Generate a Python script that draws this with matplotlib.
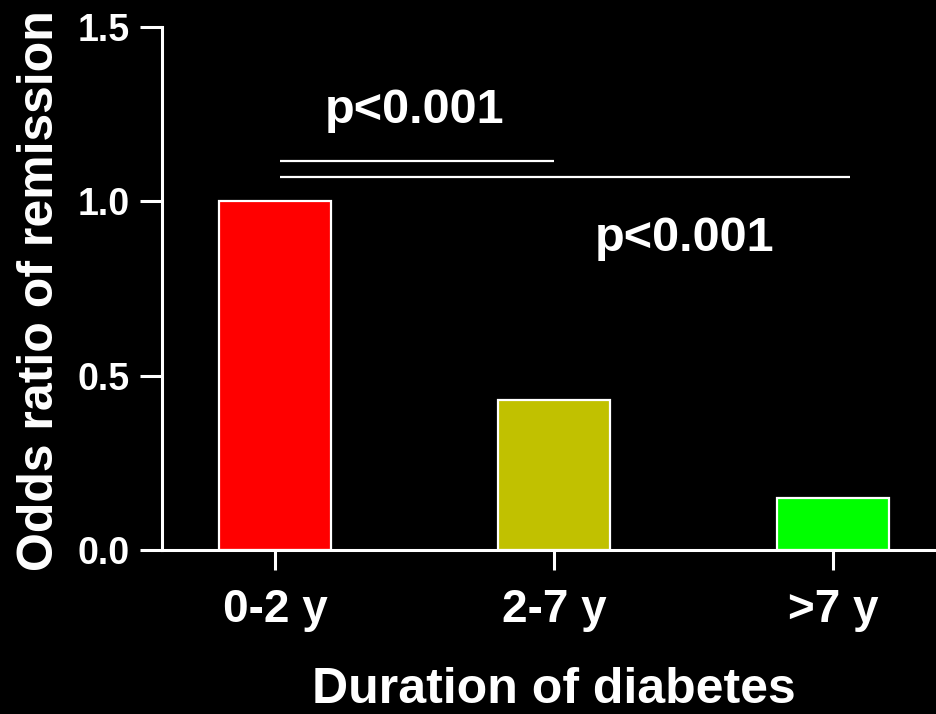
import numpy as np
import matplotlib.pyplot as plt

# odds ratio of remission by diabetes duration
groups = ['0-2 y', '2-7 y', '>7 y']
odds = [1.0, 0.43, 0.15]
bar_colors = ['#ff0000', '#c1c100', '#00ff00']

# significance brackets: (x start, x end, y, label, label x, label y)
brackets = [(0.02, 1.0, 1.115, 'p<0.001', 0.50, 1.26),
            (0.02, 2.06, 1.07, 'p<0.001', 1.47, 0.895)]

fig = plt.figure(figsize=(9.36, 7.14), dpi=100, facecolor='black')
ax = fig.add_axes([0.173, 0.2297, 0.827, 0.7323], facecolor='black')

x = np.arange(len(groups))
ax.bar(x, odds, width=0.4, color=bar_colors, edgecolor='white', linewidth=1.6, zorder=2)

for x0, x1, y, txt, tx, ty in brackets:
    ax.plot([x0, x1], [y, y], color='white', lw=1.6, solid_capstyle='butt')
    ax.text(tx, ty, txt, color='white', fontsize=35, fontweight='bold',
            family='Liberation Sans', ha='center', va='center')

ax.set_xlim(-0.405, 2.37)
ax.set_ylim(0, 1.5)
ax.set_yticks([0, 0.5, 1.0, 1.5])
ax.set_yticklabels(['0.0', '0.5', '1.0', '1.5'])
ax.set_xticks(x)
ax.set_xticklabels(groups)

for s in ['top', 'right']:
    ax.spines[s].set_visible(False)
for s in ['left', 'bottom']:
    ax.spines[s].set_color('white')
    ax.spines[s].set_linewidth(2.2)

ax.tick_params(axis='y', colors='white', length=16, width=2.2, pad=7)
ax.tick_params(axis='x', colors='white', length=14.5, width=2.2, pad=13)
for lab in ax.get_yticklabels():
    lab.set_family('Liberation Sans')
    lab.set_fontweight('bold')
    lab.set_fontsize(27)
for lab in ax.get_xticklabels():
    lab.set_family('Liberation Sans')
    lab.set_fontweight('bold')
    lab.set_fontsize(33)

ax.set_ylabel('Odds ratio of remission', color='white', fontsize=36,
              fontweight='bold', family='Liberation Sans', va='center')
ax.yaxis.set_label_coords(-0.158, 0.497)
ax.set_xlabel('Duration of diabetes', color='white', fontsize=36,
              fontweight='bold', family='Liberation Sans', va='bottom')
ax.xaxis.set_label_coords(0.506, -0.312)

fig.savefig('out.png', dpi=100, facecolor='black')
